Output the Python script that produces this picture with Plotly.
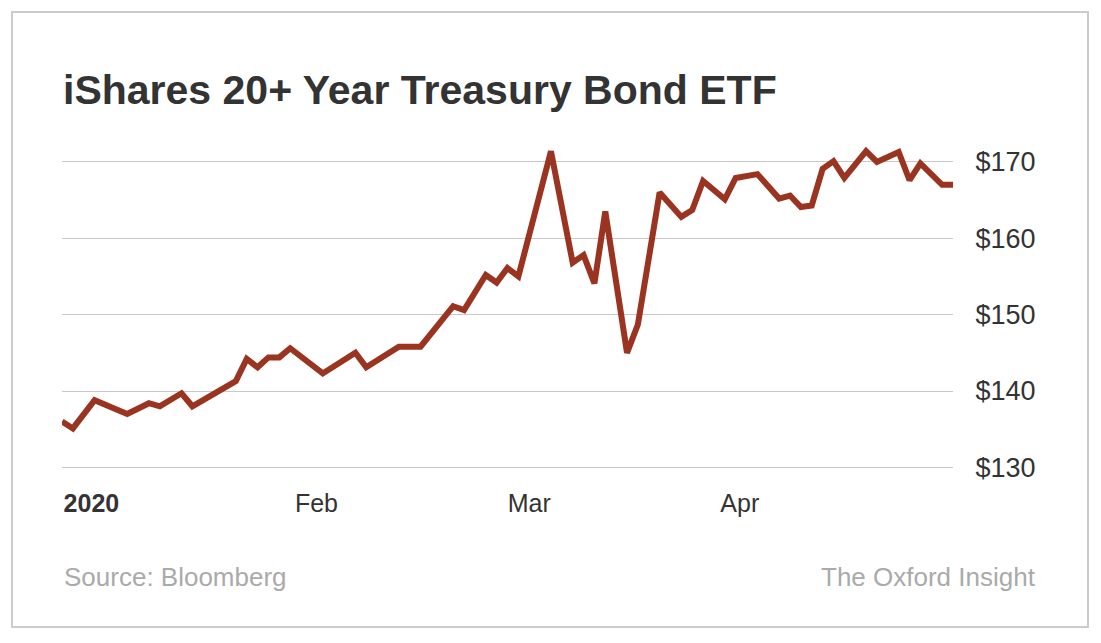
import plotly.graph_objects as go

# ---- data (vertices; trading days) ----
dates = [
    "2020-01-02", "2020-01-03", "2020-01-07", "2020-01-10", "2020-01-14",
    "2020-01-15", "2020-01-17", "2020-01-21", "2020-01-27", "2020-01-28",
    "2020-01-29", "2020-01-30", "2020-01-31", "2020-02-03", "2020-02-06",
    "2020-02-11", "2020-02-12", "2020-02-18", "2020-02-20", "2020-02-25",
    "2020-02-26", "2020-02-28", "2020-03-02", "2020-03-03", "2020-03-04",
    "2020-03-09", "2020-03-11", "2020-03-12", "2020-03-13", "2020-03-16",
    "2020-03-18", "2020-03-19", "2020-03-23", "2020-03-25", "2020-03-26",
    "2020-03-27", "2020-03-31", "2020-04-01", "2020-04-03", "2020-04-07",
    "2020-04-08", "2020-04-09", "2020-04-13", "2020-04-14", "2020-04-15",
    "2020-04-16", "2020-04-20", "2020-04-21", "2020-04-23", "2020-04-24",
    "2020-04-27", "2020-04-29", "2020-04-30",
]
prices = [
    136.0, 135.1, 138.8, 137.0, 138.4,
    138.0, 139.7, 138.0, 141.3, 144.2,
    143.1, 144.4, 144.4, 145.6, 142.3,
    145.0, 143.1, 145.8, 145.8, 151.1,
    150.6, 155.2, 154.2, 156.1, 155.0,
    171.4, 156.8, 157.8, 154.1, 163.5,
    145.0, 148.7, 166.0, 162.8, 163.7,
    167.5, 165.1, 167.9, 168.4, 165.2,
    165.6, 164.1, 164.3, 169.1, 170.1,
    167.9, 171.4, 170.0, 171.3, 167.6,
    169.8, 167.0, 167.0,
]

y_ticks = [130, 140, 150, 160, 170]
y_tick_labels = ["$130", "$140", "$150", "$160", "$170"]
x_tick_dates = ["2020-01-06 17:00", "2020-02-05 10:00", "2020-03-05", "2020-04-01 09:00"]
x_tick_labels = ["<b>2020</b>", "Feb", "Mar", "Apr"]
holidays = ["2020-01-20", "2020-02-17", "2020-04-10"]

title_text = "iShares 20+ Year Treasury Bond ETF"
source_text = "Source: Bloomberg"
brand_text = "The Oxford Insight"

# ---- layout geometry ----
W, H = 1101, 643
L, R = 62, 148
T, B = 139, 168
pw = W - L - R
ph = H - T - B

def px(x):
    return (x - L) / pw

def py(y):
    return (H - B - y) / ph

line_color = "#9a3421"
text_color = "#333333"
grid_color = "#c9c9c9"
font_family = "Liberation Sans, Arial, Helvetica, sans-serif"

fig = go.Figure()
fig.add_trace(go.Scatter(
    x=dates, y=prices, mode="lines",
    line=dict(color=line_color, width=6),
    hoverinfo="skip",
))

fig.update_layout(
    width=W, height=H,
    margin=dict(l=L, r=R, t=T, b=B),
    paper_bgcolor="white", plot_bgcolor="white",
    showlegend=False,
    font=dict(family=font_family, color=text_color),
    xaxis=dict(
        type="date",
        range=["2020-01-02", "2020-04-30"],
        rangebreaks=[dict(bounds=["sat", "mon"]), dict(values=holidays)],
        tickmode="array", tickvals=x_tick_dates, ticktext=x_tick_labels,
        showgrid=False, zeroline=False, showline=False,
        ticks="outside", ticklen=6, tickcolor="rgba(0,0,0,0)",
        tickfont=dict(size=25, color=text_color),
    ),
    yaxis=dict(
        side="right",
        range=[129, 173],
        tickmode="array", tickvals=y_ticks, ticktext=y_tick_labels,
        showgrid=True, gridcolor=grid_color, gridwidth=1,
        zeroline=False, showline=False,
        ticks="outside", ticklen=16, tickcolor="rgba(0,0,0,0)",
        tickfont=dict(size=27, color=text_color),
    ),
    shapes=[dict(
        type="rect", xref="paper", yref="paper",
        x0=px(12), x1=px(1088), y0=py(627), y1=py(12),
        line=dict(color="#cccccc", width=2), fillcolor="rgba(0,0,0,0)",
        layer="below",
    )],
    annotations=[
        dict(text=f"<b>{title_text}</b>", xref="paper", yref="paper",
             x=px(61), y=py(90), xanchor="left", yanchor="middle",
             showarrow=False, font=dict(size=41, color=text_color)),
        dict(text=source_text, xref="paper", yref="paper",
             x=px(62), y=py(577), xanchor="left", yanchor="middle",
             showarrow=False, font=dict(size=26, color="#aaaaaa")),
        dict(text=brand_text, xref="paper", yref="paper",
             x=px(1038), y=py(577), xanchor="right", yanchor="middle",
             showarrow=False, font=dict(size=26, color="#aaaaaa")),
    ],
)

fig.write_html("out.html")
